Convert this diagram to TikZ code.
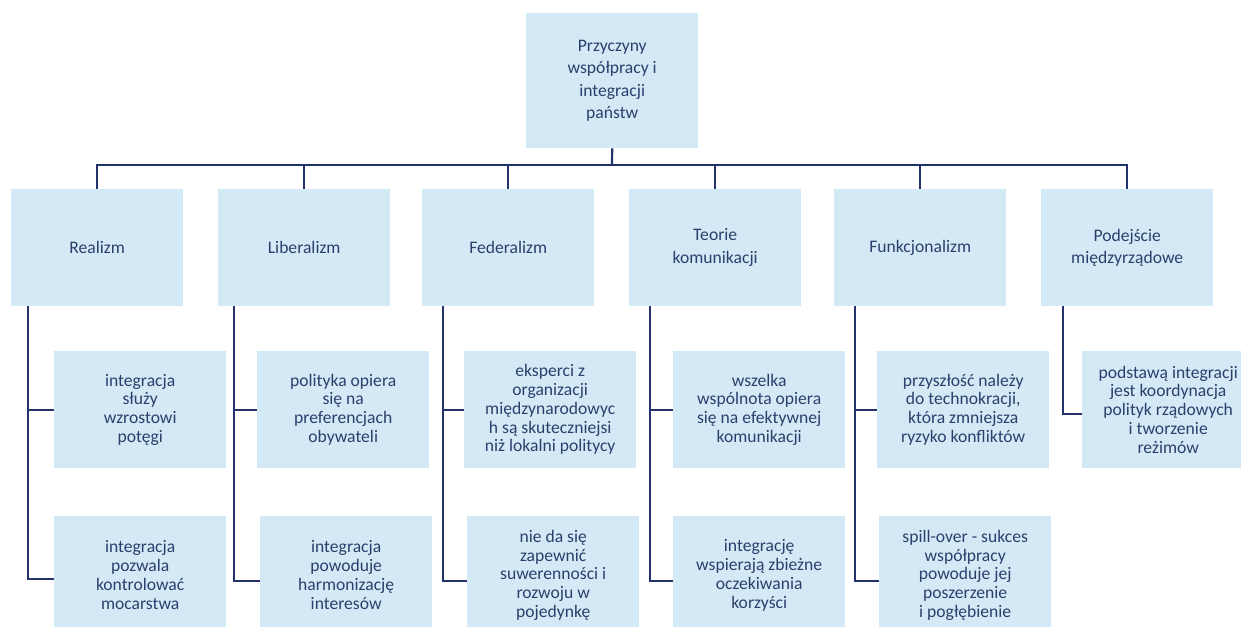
\documentclass[tikz,border=0pt]{standalone}
\usepackage{fontspec}
\setmainfont{Carlito}
\definecolor{boxblue}{HTML}{D3EAF6}
\definecolor{linenavy}{HTML}{22326A}
\definecolor{textnavy}{HTML}{2C3F6C}
\begin{document}
\begin{tikzpicture}[x=1pt,y=-1pt,
  box/.style={fill=boxblue, minimum width=172pt, minimum height=117pt, inner sep=0pt,
    anchor=north west, align=center, text=textnavy},
  topbox/.style={box, font=\fontsize{17.6}{22.5}\selectfont},
  subbox/.style={box, font=\fontsize{17.6}{18.8}\selectfont},
  conn/.style={draw=linenavy, line width=2.2pt}]
\useasboundingbox (0,0) rectangle (1241,626);
\clip (0,0) rectangle (1241,626);
% root
\node[topbox, minimum height=135pt] (root) at (526,13) {Przyczyny\\współpracy i\\integracji\\państw};
% level 1
\node[topbox] (r) at (11,189) {Realizm};
\node[topbox] (l) at (218,189) {Liberalizm};
\node[topbox] (f) at (422,189) {Federalizm};
\node[topbox] (t) at (629,189) {Teorie\\komunikacji};
\node[topbox] (k) at (834,189) {Funkcjonalizm};
\node[topbox] (p) at (1041,189) {Podejście\\międzyrządowe};
% level 2
\node[subbox] (r1) at (54,351) {integracja\\służy\\wzrostowi\\potęgi};
\node[subbox, minimum height=118pt] (r2) at (54,516) {integracja\\pozwala\\kontrolować\\mocarstwa};
\node[subbox] (l1) at (257,351) {polityka opiera\\się na\\preferencjach\\obywateli};
\node[subbox, minimum height=118pt] (l2) at (260,516) {integracja\\powoduje\\harmonizację\\interesów};
\node[subbox] (f1) at (464,351) {eksperci z\\organizacji\\międzynarodowyc\\h są skuteczniejsi\\niż lokalni politycy};
\node[subbox, minimum height=118pt] (f2) at (467,516) {nie da się\\zapewnić\\suwerenności i\\rozwoju w\\pojedynkę};
\node[subbox] (t1) at (673,351) {wszelka\\wspólnota opiera\\się na efektywnej\\komunikacji};
\node[subbox, minimum height=118pt] (t2) at (673,516) {integrację\\wspierają zbieżne\\oczekiwania\\korzyści};
\node[subbox] (k1) at (877,351) {przyszłość należy\\do technokracji,\\która zmniejsza\\ryzyko konfliktów};
\node[subbox, minimum height=118pt] (k2) at (879,516) {spill-over - sukces\\współpracy\\powoduje jej\\poszerzenie\\i pogłębienie};
\node[subbox] (p1) at (1082,351) {podstawą integracji\\jest koordynacja\\polityk rządowych\\i tworzenie\\reżimów};
% bus
\coordinate (bus) at (612,165);
\draw[conn] (root.south) -- (bus);
\draw[conn] (r.north) |- (bus) -| (p.north);
\draw[conn] (l.north) -- (l.north |- bus);
\draw[conn] (f.north) -- (f.north |- bus);
\draw[conn] (t.north) -- (t.north |- bus);
\draw[conn] (k.north) -- (k.north |- bus);
% branches
\draw[conn] ([xshift=17pt]r.south west) |- (r1.west);
\draw[conn] ([xshift=17pt]r.south west) |- ([yshift=-4pt]r2.west);
\draw[conn] ([xshift=16pt]l.south west) |- (l1.west);
\draw[conn] ([xshift=16pt]l.south west) |- ([yshift=-6pt]l2.west);
\draw[conn] ([xshift=21pt]f.south west) |- (f1.west);
\draw[conn] ([xshift=21pt]f.south west) |- ([yshift=-6pt]f2.west);
\draw[conn] ([xshift=21pt]t.south west) |- (t1.west);
\draw[conn] ([xshift=21pt]t.south west) |- ([yshift=-6pt]t2.west);
\draw[conn] ([xshift=21pt]k.south west) |- (k1.west);
\draw[conn] ([xshift=21pt]k.south west) |- ([yshift=-6pt]k2.west);
\draw[conn] ([xshift=22pt]p.south west) |- ([yshift=-4pt]p1.west);
\end{tikzpicture}
\end{document}
